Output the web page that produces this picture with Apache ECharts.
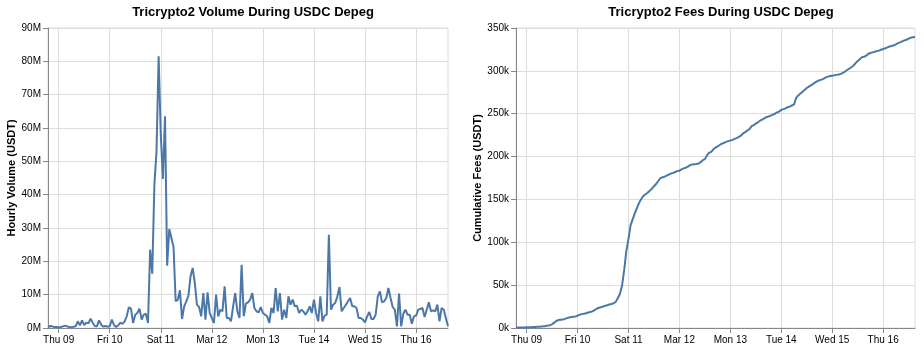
<!DOCTYPE html>
<html>
<head>
<meta charset="utf-8">
<title>Tricrypto2 during USDC depeg</title>
<script src="https://cdn.jsdelivr.net/npm/echarts@6/dist/echarts.min.js"></script>
<style>
  html, body { margin: 0; padding: 0; background: #fff; }
  #main { width: 924px; height: 351px; }
</style>
</head>
<body>
<div id="main"></div>
<script>
// x is hours since Mar 08 19:00, one point per hour up to Mar 16 15:00
var firstHour = 0;
var lastHour = 188;

// midnight of each day, in the same hour units
var dayTicks = [5, 29, 53, 77, 101, 125, 149, 173];
var dayLabels = ['Thu 09', 'Fri 10', 'Sat 11', 'Mar 12', 'Mon 13', 'Tue 14', 'Wed 15', 'Thu 16'];

// hourly volume, millions of USDT
var hourlyVolumeM = [
  0.3, 0.6, 0.5, 0.3, 0.3, 0.2, 0.3, 0.5, 0.7, 0.5,
  0.3, 0.2, 0.4, 0.5, 2.0, 0.8, 2.3, 0.9, 1.6, 1.4,
  2.8, 1.6, 0.6, 0.5, 2.3, 1.0, 0.4, 0.6, 0.4, 0.5,
  2.5, 0.9, 0.3, 0.8, 1.6, 1.2, 2.0, 3.5, 6.2, 5.8,
  1.5, 4.0, 4.5, 5.8, 2.5, 4.0, 4.3, 1.5, 23.5, 16.3,
  43, 53, 81.5, 58, 44.7, 63.5, 18.7, 29.7, 27, 24.3,
  8, 8.5, 11.3, 2.7, 6.5, 8, 9.7, 15.5, 18, 13.5,
  7, 6.3, 3.5, 10.5, 2.5, 10.7, 4.5, 3, 1.5, 10,
  3.5, 5.5, 5, 12.5, 3, 3, 2, 6.5, 10.5, 5,
  3, 19, 3.5, 7.3, 7.7, 8.5, 10.5, 6, 5, 4.7,
  6.3, 4.5, 4, 3.5, 1.5, 6, 4.5, 12, 5, 10.5,
  2.5, 5.5, 3, 9.5, 7, 8.5, 6.5, 6.7, 4.5, 5.5,
  5, 4, 5, 6.5, 4.5, 8.5, 4.5, 2, 9.5, 2,
  3.7, 4, 28, 5.5, 7, 7.5, 9.5, 12.3, 5, 6,
  7, 8, 9, 6.5, 6.5, 6, 3, 3, 2.5, 1.7,
  3.5, 4.8, 2.7, 2.7, 4, 9.5, 11, 7.7, 8, 9,
  12, 9, 6.3, 5.5, 0.5, 10.3, 0.5, 4.3, 5.5, 4,
  4, 1.3, 3.5, 3.7, 5.5, 5.7, 6, 3.3, 5.5, 7.7,
  5, 5.3, 5, 7, 2, 6, 5.5, 3, 0.5
];

// cumulative fees, thousands of USDT
var cumFeesK = [
  0.5, 0.6, 0.6, 0.7, 0.7, 0.8, 0.8, 0.9, 1.1, 1.3,
  1.4, 1.5, 1.7, 1.9, 2.4, 2.8, 3.3, 4.3, 6.3, 8.2,
  9.3, 9.7, 10.0, 10.6, 11.5, 12.3, 12.8, 13.1, 13.4, 14.4,
  15.5, 16.2, 16.7, 17.3, 18.0, 18.7, 19.4, 20.8, 22.5, 23.6,
  24.2, 25.0, 25.9, 26.6, 27.4, 28.0, 28.9, 30.5, 35, 40,
  50, 68, 90, 104, 120, 127, 134, 140, 146, 150.5,
  154, 156, 157.8, 160, 162.5, 165.4, 168, 171.5, 174.7, 175.8,
  176.5, 177.8, 179, 180.2, 181, 182, 183, 183.5, 185, 186.2,
  187, 188.3, 190, 190.7, 191.1, 191.4, 191.8, 193.5, 195.8, 197,
  201.5, 204.5, 205.5, 208.5, 210.5, 212, 213.5, 215, 216, 217.2,
  218, 218.8, 219.5, 220.7, 221.5, 223, 224.5, 227, 228.5, 230.5,
  232, 235.5, 236.5, 238.5, 240, 241.8, 243.2, 244.5, 246, 246.8,
  247.8, 249, 250, 251.5, 252.5, 254.5, 255.4, 256.2, 257.6, 258.3,
  259.6, 260.8, 268.4, 271.3, 273.5, 275.5, 277.8, 280, 281.5, 283,
  284.8, 286.5, 288, 289, 289.8, 291, 292.4, 293.3, 293.9, 294.4,
  294.8, 295.3, 295.7, 296.4, 297.6, 299.2, 301, 302.5, 304.2, 306,
  309, 311.5, 313.5, 316, 316.4, 317.7, 320, 320.8, 321.6, 322.3,
  323, 323.6, 324.6, 325.5, 326.4, 327.4, 328.4, 329.1, 329.8, 331,
  332.3, 333.2, 334.4, 335.6, 336.3, 337.6, 338.6, 339.3, 339.5
];

var font = 'Liberation Sans, Arial, sans-serif';
var lineColor = '#4c78a8';

// pair each value with its hour
function toPairs(values) {
  var out = [];
  for (var i = 0; i < values.length; i++) {
    out.push([firstHour + i, values[i]]);
  }
  return out;
}

function hourAxis(gridIndex) {
  return {
    type: 'value',
    gridIndex: gridIndex,
    min: firstHour,
    max: lastHour,
    axisLine: { show: true, onZero: false, lineStyle: { color: '#888', width: 1 } },
    axisTick: { show: true, length: 5, customValues: dayTicks, lineStyle: { color: '#888' } },
    axisLabel: {
      customValues: dayTicks,
      formatter: function (v) { return dayLabels[dayTicks.indexOf(Math.round(v))]; },
      fontSize: 10, color: '#000', margin: 7, fontFamily: font
    },
    splitLine: { show: true, lineStyle: { color: '#ddd', width: 1 } }
  };
}

function valueAxis(gridIndex, name, max, step, unit, gap) {
  return {
    type: 'value',
    gridIndex: gridIndex,
    min: 0,
    max: max,
    interval: step,
    name: name,
    nameLocation: 'middle',
    nameGap: gap,
    nameTextStyle: { fontSize: 11, fontWeight: 'bold', color: '#000', fontFamily: font },
    axisLine: { show: true, lineStyle: { color: '#888', width: 1 } },
    axisTick: { show: true, length: 5, lineStyle: { color: '#888' } },
    axisLabel: { formatter: '{value}' + unit, fontSize: 10, color: '#000', margin: 7, fontFamily: font },
    splitLine: { show: true, lineStyle: { color: '#ddd', width: 1 } }
  };
}

var chart = echarts.init(document.getElementById('main'));
chart.setOption({
  animation: false,
  textStyle: { fontFamily: font },
  title: [
    { text: 'Tricrypto2 Volume During USDC Depeg', left: 248, top: 1, textAlign: 'center',
      textStyle: { fontSize: 13, fontWeight: 'bold', color: '#000', fontFamily: font } },
    { text: 'Tricrypto2 Fees During USDC Depeg', left: 716, top: 1, textAlign: 'center',
      textStyle: { fontSize: 13, fontWeight: 'bold', color: '#000', fontFamily: font } }
  ],
  grid: [
    { left: 48, top: 28, width: 400, height: 300, show: true, borderColor: '#ddd', borderWidth: 1 },
    { left: 516, top: 28, width: 399, height: 300, show: true, borderColor: '#ddd', borderWidth: 1 }
  ],
  xAxis: [hourAxis(0), hourAxis(1)],
  yAxis: [
    valueAxis(0, 'Hourly Volume (USDT)', 90, 10, 'M', 30),
    valueAxis(1, 'Cumulative Fees (USDT)', 350, 50, 'k', 32)
  ],
  series: [
    { name: 'volume', type: 'line', xAxisIndex: 0, yAxisIndex: 0, showSymbol: false,
      lineStyle: { color: lineColor, width: 2 }, itemStyle: { color: lineColor },
      data: toPairs(hourlyVolumeM) },
    { name: 'fees', type: 'line', xAxisIndex: 1, yAxisIndex: 1, showSymbol: false,
      lineStyle: { color: lineColor, width: 2 }, itemStyle: { color: lineColor },
      data: toPairs(cumFeesK) }
  ]
});
</script>
</body>
</html>
